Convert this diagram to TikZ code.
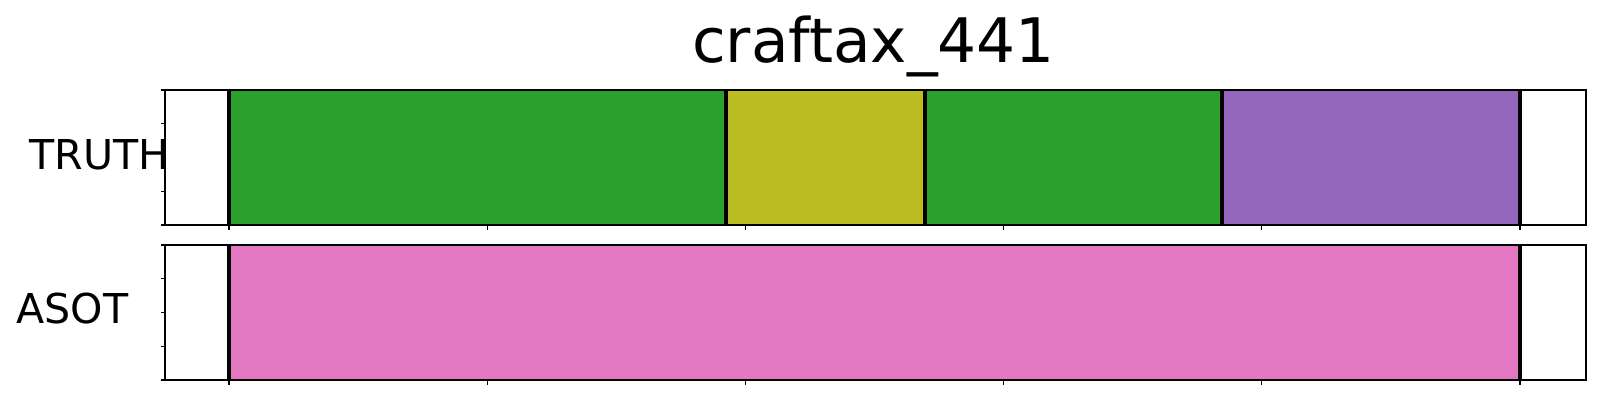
\documentclass[tikz,border=0pt]{standalone}
\usepackage{fontspec}
\setmainfont{DejaVu Sans}
\definecolor{segGreen}{HTML}{2CA02C}
\definecolor{segOlive}{HTML}{BCBD22}
\definecolor{segPurple}{HTML}{9467BD}
\definecolor{segPink}{HTML}{E377C2}
\tikzset{
	frame/.style={line width=0.32pt},
	bound/.style={line width=1.15pt},
	tick/.style={line width=0.3pt},
	rowlabel/.style={anchor=base west,inner sep=0pt,font=\fontsize{11.7}{14}\selectfont}
}
\begin{document}
\begin{tikzpicture}[x=0.01cm,y=-0.01cm]
		\useasboundingbox (0,0) rectangle (1600,400);
		\def\xl{165}
		\def\xr{1586}
		\node[anchor=base,inner sep=0pt,font=\fontsize{17.45}{20}\selectfont] (title) at (873.5,62.7) {craftax\_441};
		
		\foreach \a/\b/\c in {229/726/segGreen,726/925/segOlive,925/1222/segGreen,1222/1520/segPurple}
			\fill[\c] (\a,90) rectangle (\b,225);
		\fill[segPink] (229,245) rectangle (1520,380);
		
		\foreach \x in {229,726,925,1222,1520}
			\draw[bound] (\x,90) -- (\x,225);
		\foreach \x in {229,1520}
			\draw[bound] (\x,245) -- (\x,380);
		
		\draw[frame] (\xl,90) rectangle (\xr,225);
		\draw[frame] (\xl,245) rectangle (\xr,380);
		
		\foreach \y in {90,123.75,157.5,191.25,225,245,278.75,312.5,346.25,380}
			\draw[tick] (\xl,\y) -- (160.5,\y);
		\foreach \x in {229,487.2,745.4,1003.6,1261.8,1520}{
			\draw[tick] (\x,225) -- (\x,229.5);
			\draw[tick] (\x,380) -- (\x,384.5);
		}
		
		\node[rowlabel] (truth) at (29,169) {TRUTH};
		\node[rowlabel] (asot) at (16,323) {ASOT};
	\end{tikzpicture}
\end{document}
